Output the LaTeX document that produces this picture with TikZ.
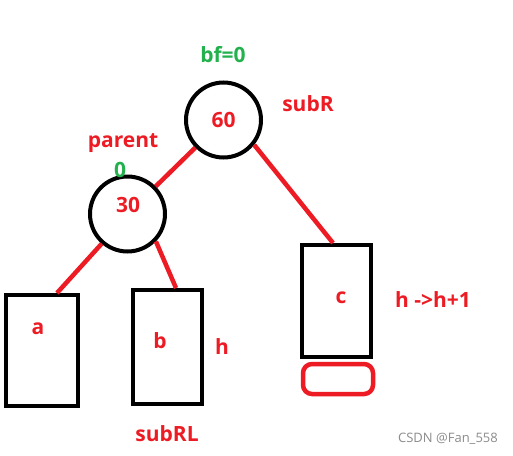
\documentclass[tikz,border=0pt]{standalone}
\usepackage{fontspec}
\setmainfont{Open Sans}
\definecolor{pred}{RGB}{237,28,36}
\definecolor{pgreen}{RGB}{34,177,76}
\definecolor{wgray}{RGB}{140,140,140}
\tikzset{
  ring/.style={circle,draw=black,line width=4pt,minimum size=75pt,inner sep=0pt},
  box/.style={rectangle,draw=black,line width=4pt,inner sep=0pt},
  lbl/.style={text=pred,font=\bfseries\fontsize{21}{21}\selectfont,inner sep=0pt},
  glbl/.style={text=pgreen,font=\bfseries\fontsize{21}{21}\selectfont,inner sep=0pt},
  edge/.style={draw=pred,line width=4.5pt},
}
\begin{document}
\begin{tikzpicture}[x=1pt,y=-1pt]
\useasboundingbox[fill=white] (0,0) rectangle (513,455);
% circles
\node[ring] (n60) at (223.5,120) {};
\node[ring] (n30) at (127.5,214) {};
% boxes
\node[box,minimum width=72pt,minimum height=111pt] (a) at (42,350.5) {};
\node[box,minimum width=69pt,minimum height=114pt] (b) at (167.5,347) {};
\node[box,minimum width=69pt,minimum height=112pt] (c) at (336.5,301) {};
\node[rectangle,draw=pred,line width=4.5pt,rounded corners=9pt,inner sep=0pt,minimum width=70pt,minimum height=30pt] (ext) at (338,379) {};
% connectors
\draw[edge] (n60) -- (n30);
\draw[edge] (n60.-39) -- ([xshift=-3.5pt]c.north);
\draw[edge] (n30.229) -- ([xshift=15pt]a.north);
\draw[edge] (n30.-44) -- ([xshift=8.5pt]b.north);
% texts
\node[lbl] (t60) at (223.5,120) {60};
\node[lbl] (t30) at (128,205) {30};
\node[glbl] (bf) at (223,55) {bf=0};
\node[lbl] (subR) at (308,104) {subR};
\node[lbl] (parent) at (123,143) {parent};
\node[glbl] (zero) at (120,170) {0};
\node[lbl] (ta) at (38,329) {a};
\node[lbl] (tb) at (160,341) {b};
\node[lbl] (th) at (222,347) {h};
\node[lbl] (subRL) at (167,434) {subRL};
\node[lbl] (tc) at (341,298) {c};
\node[lbl] (hh) at (433,300) {h ->h+1};
\node[text=wgray,font=\fontsize{13}{13}\selectfont,inner sep=0pt] (wm) at (448,439) {CSDN @Fan\_558};
\end{tikzpicture}
\end{document}
